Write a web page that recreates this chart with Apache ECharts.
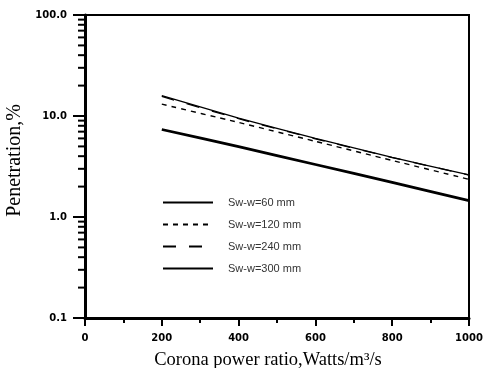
<!DOCTYPE html>
<html><head><meta charset="utf-8">
<script src="https://cdn.jsdelivr.net/npm/echarts@6/dist/echarts.min.js"></script>
<style>html,body{margin:0;padding:0;background:#fff}#c{width:484px;height:368px}</style>
</head><body><div id="c"></div>
<script>
const xVals = [200, 400, 600, 800, 1000];
const sw60 = [7.35, 4.97, 3.31, 2.20, 1.45];
const sw120 = [13.1, 8.63, 5.61, 3.63, 2.36];
const sw240 = [15.6, 9.4, 5.95, 3.88, 2.60];
const sw300 = [15.9, 9.53, 6.01, 3.90, 2.61];
const seriesNames = ['Sw-w=60 mm', 'Sw-w=120 mm', 'Sw-w=240 mm', 'Sw-w=300 mm'];
const yMinorTicks = [0.2,0.3,0.4,0.5,0.6,0.7,0.8,0.9,2,3,4,5,6,7,8,9,20,30,40,50,60,70,80,90];

const pairs = arr => xVals.map((x, i) => [x, arr[i]]);
const chart = echarts.init(document.getElementById('c'));
const tickFont = {fontFamily: 'DejaVu Sans', fontWeight: 'bold', fontSize: 10, color: '#000'};
function lineSeries(name, data, width, type) {
  return {name, type: 'line', data: pairs(data), symbol: 'circle', showSymbol: false, smooth: 0.2,
    lineStyle: {color: '#000', width, type}, itemStyle: {color: '#000'}, z: 3};
}
chart.setOption({
  animation: false,
  grid: {left: 85, right: 15, top: 15, bottom: 50, show: true, borderColor: '#000', borderWidth: 2,
    containLabel: false, outerBoundsMode: 'none'},
  legend: {
    data: seriesNames, orient: 'vertical', left: 157, top: 192, itemWidth: 50, itemHeight: 11, itemGap: 11,
    itemStyle: {color: 'rgba(0,0,0,0)', borderColor: 'rgba(0,0,0,0)', borderWidth: 0},
    textStyle: {fontFamily: 'Liberation Sans', fontSize: 11, color: '#333', padding: [0, 0, 0, 10]}
  },
  xAxis: {
    type: 'value', min: 0, max: 1000, interval: 200,
    name: 'Corona power ratio,Watts/m³/s', nameLocation: 'middle', nameGap: 33,
    nameTextStyle: {fontFamily: 'Liberation Serif', fontSize: 18.5, color: '#000', padding: [0, 18, 0, 0]},
    axisLine: {lineStyle: {color: '#000', width: 3}},
    axisTick: {length: 8, lineStyle: {color: '#000', width: 2}},
    minorTick: {show: true, splitNumber: 2, length: 5, lineStyle: {color: '#000', width: 2}},
    axisLabel: Object.assign({margin: 15, formatter: v => String(v)}, tickFont),
    splitLine: {show: false}
  },
  yAxis: {
    type: 'log', logBase: 10, min: 0.1, max: 100,
    name: 'Penetration,%', nameLocation: 'middle', nameGap: 55,
    nameTextStyle: {fontFamily: 'Liberation Serif', fontSize: 20, color: '#000', padding: [0, 0, 0, 12]},
    axisLine: {lineStyle: {color: '#000', width: 3}},
    axisTick: {length: 12, lineStyle: {color: '#000', width: 2}},
    axisLabel: Object.assign({margin: 18, formatter: v => Number(v).toFixed(1)}, tickFont),
    splitLine: {show: false}
  },
  series: [
    lineSeries(seriesNames[0], sw60, 2.8, 'solid'),
    lineSeries(seriesNames[1], sw120, 1.4, [5, 5]),
    lineSeries(seriesNames[2], sw240, 1.3, [13, 13]),
    lineSeries(seriesNames[3], sw300, 1.3, 'solid'),
    {
      type: 'custom', clip: false, silent: true, z: 5,
      data: yMinorTicks.map(v => [0, v]),
      renderItem: (params, api) => {
        const p = api.coord([0, api.value(1)]);
        return {type: 'line', shape: {x1: p[0] - 7, y1: p[1], x2: p[0], y2: p[1]},
          style: {stroke: '#000', lineWidth: 2}};
      }
    }
  ]
});
</script></body></html>
